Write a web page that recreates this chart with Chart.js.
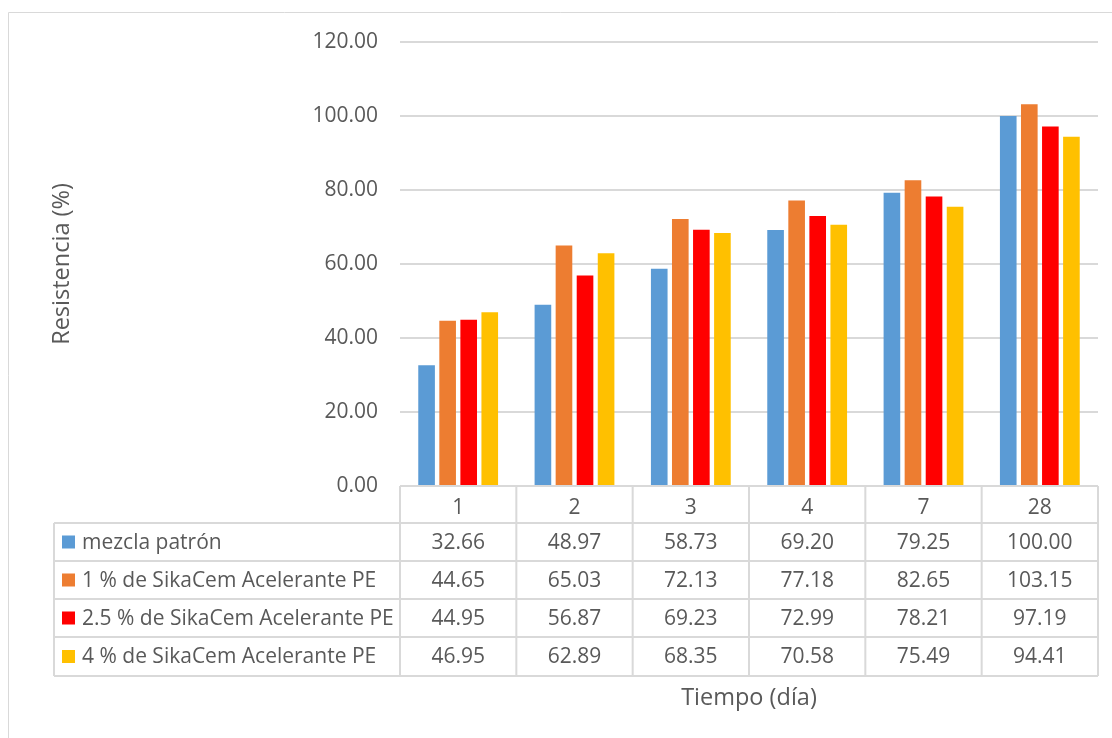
<!DOCTYPE html>
<html>
<head>
<meta charset="utf-8">
<script src="https://cdn.jsdelivr.net/npm/chart.js@4"></script>
<style>
  html, body { margin: 0; padding: 0; background: #fff; }
  #wrap { width: 1112px; height: 738px; }
</style>
</head>
<body>
<div id="wrap"><canvas id="grafico" width="1112" height="738"></canvas></div>
<script>
// datos del gráfico
const dias = ['1', '2', '3', '4', '7', '28'];
const series = ['mezcla patrón', '1 % de SikaCem Acelerante PE', '2.5 % de SikaCem Acelerante PE', '4 % de SikaCem Acelerante PE'];
const mezclaPatron = [32.66, 48.97, 58.73, 69.20, 79.25, 100.00];
const sika1 = [44.65, 65.03, 72.13, 77.18, 82.65, 103.15];
const sika25 = [44.95, 56.87, 69.23, 72.99, 78.21, 97.19];
const sika4 = [46.95, 62.89, 68.35, 70.58, 75.49, 94.41];
const colores = ['#5B9BD5', '#ED7D31', '#FF0000', '#FFC000'];

const gris = '#d9d9d9';
const texto = '#595959';
const fuente = '"Open Sans", sans-serif';

// tabla de datos debajo del gráfico (como en Excel)
const tablaPlugin = {
    id: 'tablaDatos',
    beforeDraw(chart) {
        const ctx = chart.ctx;
        ctx.save();
        ctx.strokeStyle = gris;
        ctx.lineWidth = 1;
        ctx.beginPath();
        ctx.moveTo(8.5, 740);
        ctx.lineTo(8.5, 12.5);
        ctx.lineTo(1112, 12.5);
        ctx.stroke();
        ctx.restore();
    },
    afterDraw(chart) {
        const ctx = chart.ctx;
        const x = chart.scales.x;
        const area = chart.chartArea;
        const n = dias.length;
        const paso = x.getPixelForValue(1) - x.getPixelForValue(0);
        const bordes = [];
        for (let i = 0; i <= n; i++) bordes.push(x.getPixelForValue(0) - paso / 2 + i * paso);
        const izq = 54;
        const top = area.bottom;
        const filas = [top + 37, top + 75, top + 113, top + 151, top + 190];
        const valores = [mezclaPatron, sika1, sika25, sika4];

        ctx.save();
        ctx.strokeStyle = gris;
        ctx.lineWidth = 2;
        ctx.beginPath();
        // horizontales
        filas.forEach(y => {
            ctx.moveTo(izq, y);
            ctx.lineTo(bordes[n], y);
        });
        // verticales
        bordes.forEach(bx => {
            ctx.moveTo(bx, top);
            ctx.lineTo(bx, filas[4]);
        });
        ctx.moveTo(izq, filas[0]);
        ctx.lineTo(izq, filas[4]);
        ctx.stroke();

        ctx.font = '21px ' + fuente;
        ctx.textBaseline = 'middle';
        for (let s = 0; s < series.length; s++) {
            const yc = (filas[s] + filas[s + 1]) / 2;
            ctx.fillStyle = colores[s];
            ctx.fillRect(62, yc - 6.5, 13, 13);
            ctx.fillStyle = texto;
            ctx.textAlign = 'left';
            ctx.fillText(series[s], 82, yc + 1);
            ctx.textAlign = 'center';
            for (let i = 0; i < n; i++) {
                ctx.fillText(valores[s][i].toFixed(2), x.getPixelForValue(i), yc + 1);
            }
        }
        ctx.restore();
    }
};

new Chart(document.getElementById('grafico').getContext('2d'), {
    type: 'bar',
    data: {
        labels: dias,
        datasets: [
            { label: series[0], data: mezclaPatron, backgroundColor: colores[0] },
            { label: series[1], data: sika1, backgroundColor: colores[1] },
            { label: series[2], data: sika25, backgroundColor: colores[2] },
            { label: series[3], data: sika4, backgroundColor: colores[3] }
        ]
    },
    options: {
        responsive: false,
        animation: false,
        layout: { padding: { top: 42, left: 0, right: 14, bottom: 0 } },
        datasets: {
            bar: { categoryPercentage: 0.724, barPercentage: 0.79 }
        },
        plugins: {
            legend: { display: false },
            tooltip: { enabled: false }
        },
        scales: {
            x: {
                grid: { display: false, drawTicks: false },
                border: { display: false },
                ticks: { color: texto, font: { size: 21, family: fuente }, padding: 9 },
                title: {
                    display: true,
                    text: 'Tiempo (día)',
                    color: texto,
                    font: { size: 23.5, family: fuente },
                    padding: { top: 0, bottom: 26 }
                },
                afterFit(scale) { scale.height = 252; }
            },
            y: {
                min: 0,
                max: 120,
                ticks: {
                    stepSize: 20,
                    color: texto,
                    font: { size: 21, family: fuente },
                    padding: 22,
                    callback: v => v.toFixed(2)
                },
                grid: { color: gris, lineWidth: 2, drawTicks: false },
                border: { display: false },
                title: {
                    display: true,
                    text: 'Resistencia (%)',
                    color: texto,
                    font: { size: 23.5, family: fuente },
                    padding: { top: 48, bottom: 0 }
                },
                afterFit(scale) { scale.width = 400; }
            }
        }
    },
    plugins: [tablaPlugin]
});
</script>
</body>
</html>
